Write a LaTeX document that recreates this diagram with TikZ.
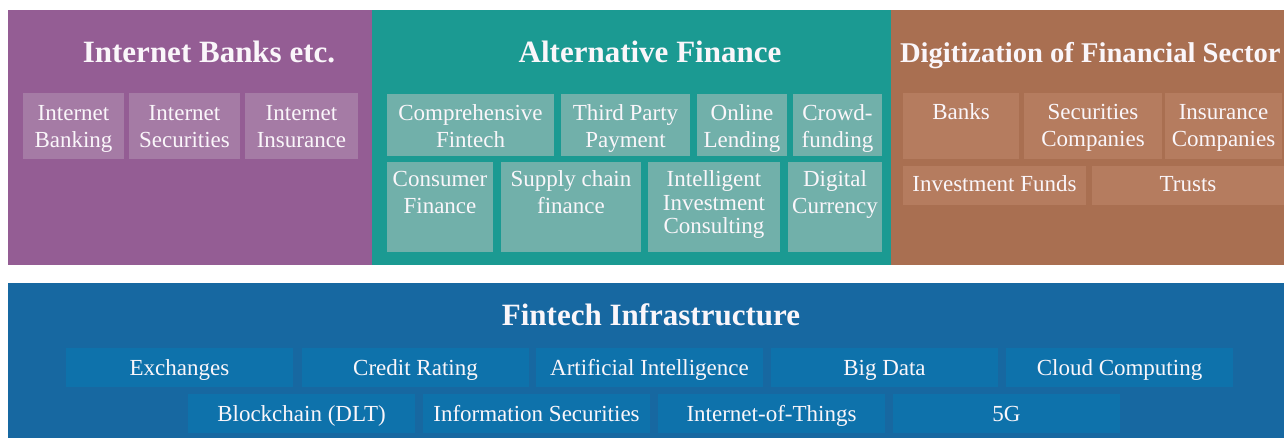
\documentclass[tikz,border=0pt]{standalone}
\usepackage{fontspec}
\setmainfont{Liberation Serif}
\definecolor{purplepanel}{HTML}{945D94}
\definecolor{purplecell}{HTML}{A57BA5}
\definecolor{tealpanel}{HTML}{1B9A92}
\definecolor{tealcell}{HTML}{71B0AA}
\definecolor{brownpanel}{HTML}{A96F51}
\definecolor{browncell}{HTML}{B57C5F}
\definecolor{bluepanel}{HTML}{1768A1}
\definecolor{bluecell}{HTML}{0E72AB}
\definecolor{txt}{HTML}{FAF6FA}
\tikzset{
  panelbox/.style={inner sep=0pt, outer sep=0pt, anchor=north west},
  cellbg/.style={inner sep=0pt, outer sep=0pt, anchor=north west},
  celltext/.style={inner sep=0pt, outer sep=0pt, anchor=base, text=txt, font=\fontsize{23}{26.5}\selectfont},
  titletext/.style={inner sep=0pt, outer sep=0pt, anchor=base, text=txt, font=\fontsize{31}{36}\selectfont\bfseries}
}
\newcommand{\mypanel}[6]{% name x1 y1 x2 y2 colour
  \pgfmathsetmacro{\panW}{#4-#2}%
  \pgfmathsetmacro{\panH}{#5-#3}%
  \node[panelbox, fill=#6, minimum width=\panW pt, minimum height=\panH pt] (#1) at (#2,#3) {};
}
\newcommand{\mycell}[8]{% name x1 y1 x2 y2 colour baseline text
  \pgfmathsetmacro{\cellW}{#4-#2}%
  \pgfmathsetmacro{\cellH}{#5-#3}%
  \pgfmathsetmacro{\cellX}{(#2+#4)/2}%
  \node[cellbg, fill=#6, minimum width=\cellW pt, minimum height=\cellH pt] (#1) at (#2,#3) {};
  \node[celltext] (#1-t) at (\cellX,#7) {\parbox[t]{\cellW pt}{\centering #8}};
}
\begin{document}
\begin{tikzpicture}[x=1pt,y=-1pt]
\path[fill=white] (0,0) rectangle (1284,438);
\useasboundingbox (0,0) rectangle (1284,438);
\clip (0,0) rectangle (1284,438);

% panels
\mypanel{ib}{8}{10}{372}{265}{purplepanel}
\mypanel{af}{372}{10}{891}{265}{tealpanel}
\mypanel{dg}{891}{10}{1284}{265}{brownpanel}
\mypanel{fi}{8}{283}{1284}{438}{bluepanel}

% titles
\node[titletext] (ibtitle) at (209,63) {Internet Banks etc.};
\node[titletext] (aftitle) at (650,63) {Alternative Finance};
\node[titletext, anchor=base west, font=\fontsize{28.6}{34}\selectfont\bfseries] (dgtitle) at (900,63) {Digitization of Financial Sector};
\node[titletext] (fititle) at (651,325) {Fintech Infrastructure};

% Internet banks
\mycell{pb1}{23}{93}{124}{159}{purplecell}{121}{Internet\\Banking}
\mycell{pb2}{129}{93}{240}{159}{purplecell}{121}{Internet\\Securities}
\mycell{pb3}{245}{93}{358}{159}{purplecell}{121}{Internet\\Insurance}

% Alternative finance
\mycell{t1}{387}{94}{554}{156}{tealcell}{121}{Comprehensive\\Fintech}
\mycell{t2}{561}{94}{690}{156}{tealcell}{121}{Third Party\\Payment}
\mycell{t3}{697}{94}{787}{156}{tealcell}{121}{Online\\Lending}
\mycell{t4}{793}{94}{882}{156}{tealcell}{121}{Crowd-\\funding}
\mycell{t5}{387}{162}{493}{252}{tealcell}{187}{Consumer\\Finance}
\mycell{t6}{501}{162}{641}{252}{tealcell}{187}{Supply chain\\finance}
\mycell{t7}{648}{162}{780}{252}{tealcell}{187}{\setlength{\baselineskip}{23.5pt}Intelligent\\Investment\\Consulting}
\mycell{t8}{788}{162}{882}{252}{tealcell}{187}{Digital\\Currency}

% Digitization
\mycell{b1}{903}{93}{1019}{159}{browncell}{120}{Banks}
\mycell{b2}{1024}{93}{1162}{159}{browncell}{120}{Securities\\Companies}
\mycell{b3}{1165}{93}{1282}{159}{browncell}{120}{Insurance\\Companies}
\mycell{b4}{903}{166}{1086}{205}{browncell}{192}{Investment Funds}
\mycell{b5}{1092}{166}{1284}{205}{browncell}{192}{Trusts}

% Fintech infrastructure
\mycell{f1}{66}{348}{293}{387}{bluecell}{375}{Exchanges}
\mycell{f2}{302}{348}{529}{387}{bluecell}{375}{Credit Rating}
\mycell{f3}{536}{348}{763}{387}{bluecell}{375}{Artificial Intelligence}
\mycell{f4}{771}{348}{998}{387}{bluecell}{375}{Big Data}
\mycell{f5}{1006}{348}{1233}{387}{bluecell}{375}{Cloud Computing}
\mycell{f6}{188}{394}{415}{433}{bluecell}{421}{Blockchain (DLT)}
\mycell{f7}{423}{394}{650}{433}{bluecell}{421}{Information Securities}
\mycell{f8}{658}{394}{885}{433}{bluecell}{421}{Internet-of-Things}
\mycell{f9}{893}{394}{1120}{433}{bluecell}{421}{5G}
\end{tikzpicture}
\end{document}
